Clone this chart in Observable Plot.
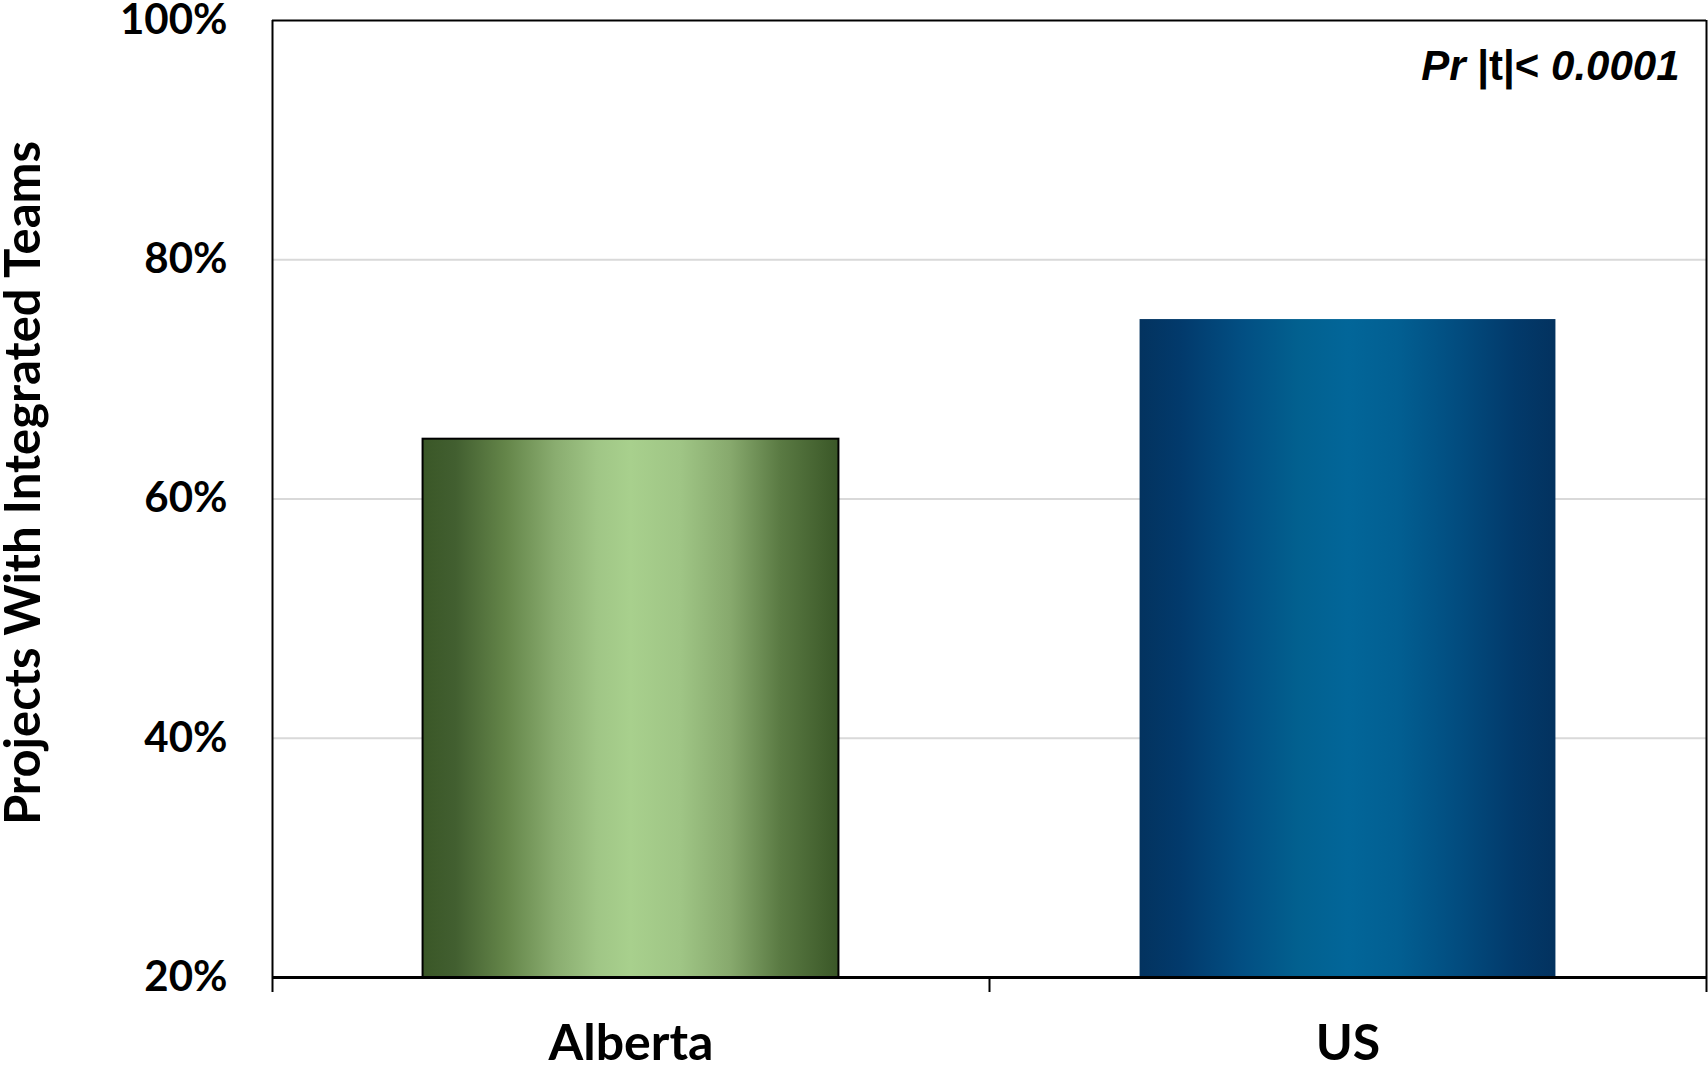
<!DOCTYPE html>
<html>
<head>
<meta charset="utf-8">
<script src="https://cdn.jsdelivr.net/npm/d3@7"></script>
<script src="https://cdn.jsdelivr.net/npm/@observablehq/plot@0.6"></script>
<style>
  html, body { margin: 0; padding: 0; background: #fff; }
  #chart svg { display: block; }
</style>
</head>
<body>
<div id="chart"></div>
<script>
// ---- data ----
const categories = ["Alberta", "US"];
const values = [65, 75];
const yTicks = [20, 40, 60, 80, 100];
const gridTicks = [40, 60, 80];
const axisTitle = "Projects With Integrated Teams";
const annotationParts = ["Pr", " |t|< ", "0.0001"];

// ---- styles ----
const gradients = [
  { id: "grad-0", stops: [[0, "#3a5727"], [0.08, "#425f30"], [0.2, "#648549"], [0.32, "#8aad70"], [0.42, "#a0c686"], [0.5, "#a8d08d"], [0.62, "#9fc585"], [0.74, "#87a96d"], [0.86, "#5a7a43"], [1, "#3a5727"]] },
  { id: "grad-1", stops: [[0, "#03335f"], [0.1, "#023a6c"], [0.25, "#024f83"], [0.38, "#02608f"], [0.5, "#026699"], [0.62, "#025f92"], [0.76, "#024d80"], [0.9, "#023a6b"], [1, "#03325f"]] }
];
const barStroke = ["#000000", "none"];

const data = categories.map((c, i) => ({ i, category: c, value: values[i] }));

const chart = Plot.plot({
  width: 1708,
  height: 1069,
  marginLeft: 272,
  marginRight: 2,
  marginTop: 20,
  marginBottom: 92,
  style: { fontFamily: "Lato", fontWeight: "bold", color: "#000", background: "#fff" },
  x: { domain: [0, categories.length], axis: null },
  y: { domain: [20, 100], axis: null },
  marks: [
    Plot.ruleY(gridTicks, { stroke: "#d9d9d9", strokeWidth: 2 }),
    Plot.rectY(data, {
      x1: d => d.i + 0.21,
      x2: d => d.i + 0.79,
      y1: 20,
      y2: "value",
      fill: d => `url(#${gradients[d.i].id})`,
      stroke: d => barStroke[d.i],
      strokeWidth: 2
    }),
    Plot.ruleY([100], { stroke: "#000", strokeWidth: 2 }),
    Plot.ruleX([0, categories.length], { stroke: "#000", strokeWidth: 2 }),
    Plot.ruleY([20], { stroke: "#000", strokeWidth: 3 }),
    Plot.axisX({ ticks: d3.range(categories.length + 1), tickSize: 15, tickFormat: () => "", label: null, stroke: "#000", strokeWidth: 2 }),
    Plot.axisX({
      ticks: categories.map((c, i) => i + 0.5),
      tickSize: 0,
      tickPadding: 47,
      tickFormat: d => categories[Math.floor(d)],
      label: null,
      fontSize: 50,
      fontWeight: "bold",
      fill: "#000"
    }),
    Plot.axisY({
      ticks: yTicks,
      tickSize: 0,
      tickPadding: 45,
      tickFormat: d => d + "%",
      label: null,
      fontSize: 42,
      fontWeight: "bold",
      fill: "#000"
    }),
    Plot.text([axisTitle], {
      frameAnchor: "left",
      textAnchor: "middle",
      lineAnchor: "middle",
      rotate: -90,
      dx: -248,
      dy: -16,
      fontSize: 49,
      fontWeight: "bold",
      fill: "#000"
    }),
    Plot.text([annotationParts.join("")], {
      frameAnchor: "top-right",
      textAnchor: "end",
      lineAnchor: "bottom",
      dx: -27,
      dy: 59,
      fontFamily: "Liberation Sans",
      fontSize: 42,
      fontWeight: "bold",
      fill: "#000"
    })
  ]
});

// gradient definitions
const svg = d3.select(chart);
const defs = svg.insert("defs", ":first-child");
gradients.forEach(g => {
  const lg = defs.append("linearGradient").attr("id", g.id).attr("x1", "0").attr("x2", "1").attr("y1", "0").attr("y2", "0");
  g.stops.forEach(([o, c]) => lg.append("stop").attr("offset", o).attr("stop-color", c));
});

// rich text for annotation
const annoText = annotationParts.join("");
svg.selectAll("text").filter(function () { return this.textContent === annoText; }).each(function () {
  const t = d3.select(this);
  t.text(null);
  annotationParts.forEach((p, k) => {
    t.append("tspan").attr("font-style", k === 1 ? "normal" : "italic").attr("xml:space", "preserve").style("white-space", "pre").text(p);
  });
});

document.getElementById("chart").appendChild(chart);
</script>
</body>
</html>
